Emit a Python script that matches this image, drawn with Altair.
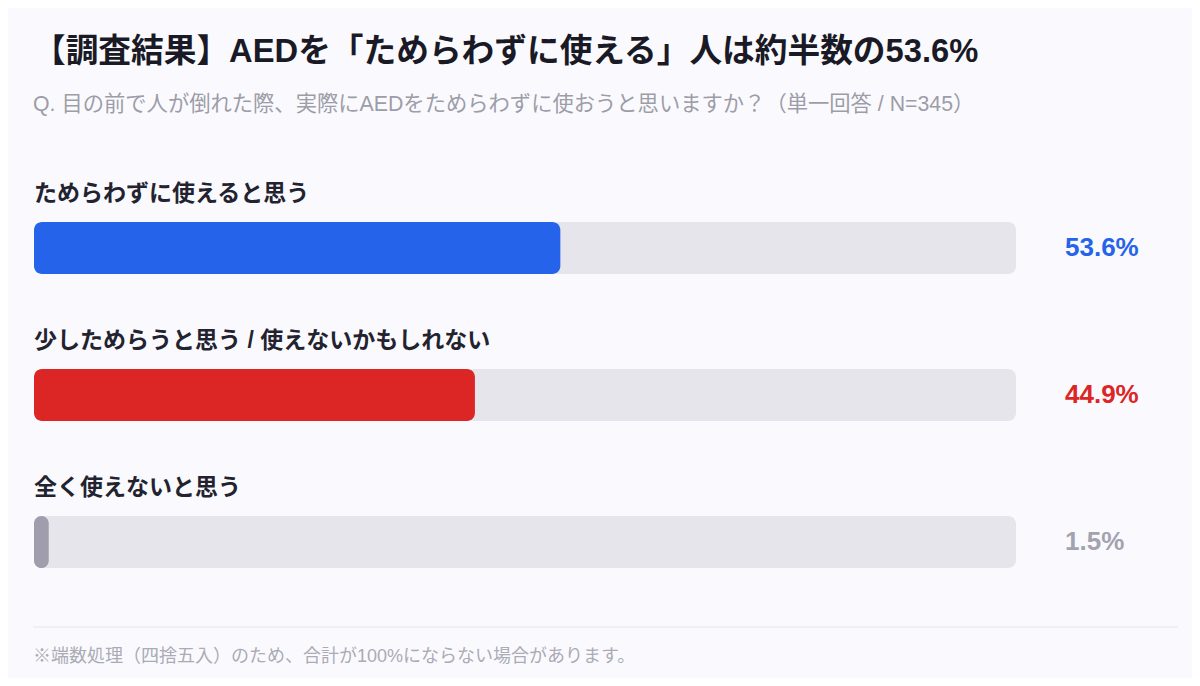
import altair as alt
import pandas as pd

categories = ["ためらわずに使えると思う", "少しためらうと思う / 使えないかもしれない", "全く使えないと思う"]
values = [53.6, 44.9, 1.5]
value_labels = ["53.6%", "44.9%", "1.5%"]
bar_colors = ["#2563eb", "#dc2626", "#a09dac"]
text_colors = ["#2563eb", "#dc2626", "#a3a3b0"]

title_text = "【調査結果】AEDを「ためらわずに使える」人は約半数の53.6%"
subtitle_text = "Q. 目の前で人が倒れた際、実際にAEDをためらわずに使おうと思いますか？（単一回答 / N=345）"
footnote_text = "※端数処理（四捨五入）のため、合計が100%にならない場合があります。"

FONT = "Liberation Sans, Noto Sans CJK JP, sans-serif"

df = pd.DataFrame({
    "cat": categories,
    "value": values,
    "label": value_labels,
    "zero": [0] * 3,
    "full": [100] * 3,
    "color": bar_colors,
    "tcolor": text_colors,
})

xs = alt.Scale(domain=[0, 100], range=[26, 1008])
ys = alt.Scale(domain=categories, range=[214, 560], paddingInner=0.6463, paddingOuter=0)

base = alt.Chart(df)

track = base.mark_bar(cornerRadius=8, color="#e6e5eb").encode(
    x=alt.X("zero:Q", scale=xs, axis=None),
    x2="full:Q",
    y=alt.Y("cat:N", scale=ys, axis=None, sort=categories),
)

bars = base.mark_bar(cornerRadius=8).encode(
    x=alt.X("zero:Q", scale=xs, axis=None),
    x2="value:Q",
    y=alt.Y("cat:N", scale=ys, axis=None, sort=categories),
    color=alt.Color("color:N", scale=None, legend=None),
)

cat_labels = base.mark_text(
    align="left", baseline="middle", dy=-54, fontSize=23, fontWeight="bold",
    font=FONT, color="#23232f",
).encode(
    x=alt.value(26),
    y=alt.Y("cat:N", scale=ys, axis=None, sort=categories),
    text="cat:N",
)

val_labels = base.mark_text(
    align="left", baseline="middle", fontSize=26, fontWeight="bold", font=FONT,
).encode(
    x=alt.value(1057),
    y=alt.Y("cat:N", scale=ys, axis=None, sort=categories),
    text="label:N",
    color=alt.Color("tcolor:N", scale=None, legend=None),
)

title = alt.Chart(pd.DataFrame({"t": [title_text]})).mark_text(
    align="left", baseline="middle", fontSize=32.7, fontWeight="bold", font=FONT, color="#1a1a26",
).encode(x=alt.value(25), y=alt.value(44), text="t:N")

subtitle = alt.Chart(pd.DataFrame({"t": [subtitle_text]})).mark_text(
    align="left", baseline="middle", fontSize=21.3, font=FONT, color="#9d9da8",
).encode(x=alt.value(25), y=alt.value(97), text="t:N")

rule = alt.Chart(pd.DataFrame({"a": [0]})).mark_rule(color="#e4e4ea", strokeWidth=1).encode(
    x=alt.value(25), x2=alt.value(1170), y=alt.value(619)
)

footnote = alt.Chart(pd.DataFrame({"t": [footnote_text]})).mark_text(
    align="left", baseline="middle", fontSize=18, font=FONT, color="#ababb5",
).encode(x=alt.value(25), y=alt.value(649), text="t:N")

chart = alt.layer(track, bars, cat_labels, val_labels, title, subtitle, rule, footnote).properties(
    width=1184, height=670, padding=0, autosize=alt.AutoSizeParams(type="none"),
    background="#fafafe",
).configure_view(stroke=None)

chart.save("out.html", embed_options={"renderer": "svg", "actions": False})
